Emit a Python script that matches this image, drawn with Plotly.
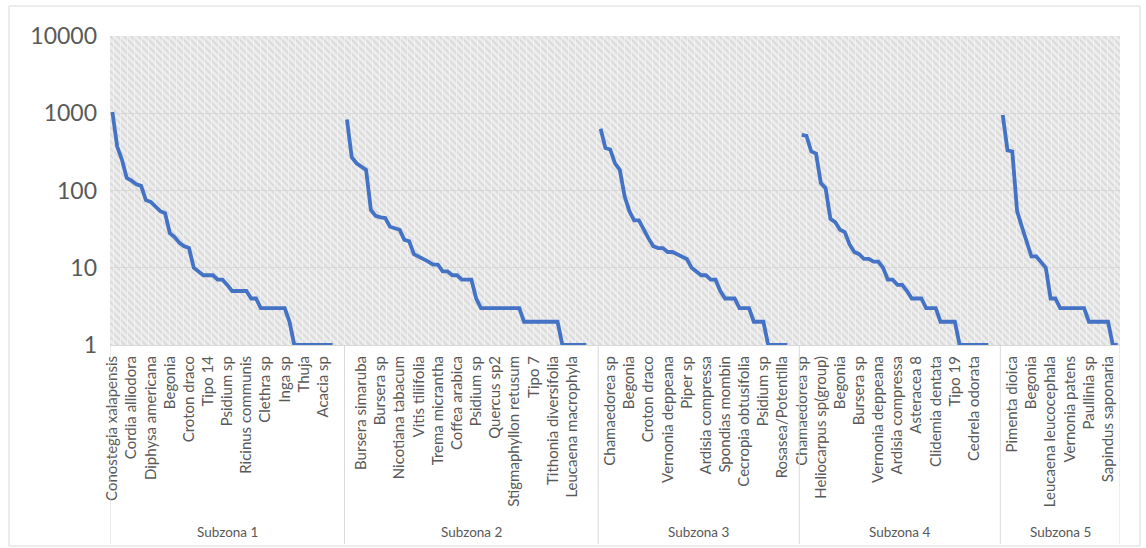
import base64
import plotly.graph_objects as go

# ---------------- data ----------------
groups = ["Subzona 1", "Subzona 2", "Subzona 3", "Subzona 4", "Subzona 5"]

abund_1 = [1040, 370, 250, 145, 134, 120, 115, 75, 71, 63, 54, 51, 28, 25, 21, 19, 18,
           10, 9, 8, 8, 8, 7, 7, 6, 5, 5, 5, 5, 4, 4, 3, 3, 3, 3, 3, 3, 2,
           1, 1, 1, 1, 1, 1, 1, 1, 1]
abund_2 = [830, 270, 225, 205, 185, 56, 47, 45, 44, 34, 32, 31, 23, 22, 15, 14, 13, 12, 11, 11,
           9, 9, 8, 8, 7, 7, 7, 4, 3, 3, 3, 3, 3, 3, 3, 3, 3,
           2, 2, 2, 2, 2, 2, 2, 2, 1, 1, 1, 1, 1, 1]
abund_3 = [630, 355, 340, 225, 185, 85, 54, 41, 41, 31, 24, 19, 18, 18, 16, 16, 15, 14, 13,
           10, 9, 8, 8, 7, 7, 5, 4, 4, 4, 3, 3, 3, 2, 2, 2, 1, 1, 1, 1, 1]
abund_4 = [525, 510, 320, 300, 125, 107, 43, 39, 31, 29, 20, 16, 15, 13, 13, 12, 12,
           10, 7, 7, 6, 6, 5, 4, 4, 4, 3, 3, 3, 2, 2, 2, 2, 1, 1, 1, 1, 1, 1, 1]
abund_5 = [950, 330, 320, 54, 34, 22, 14, 14, 12, 10, 4, 4, 3, 3, 3, 3, 3, 3,
           2, 2, 2, 2, 2, 1, 1]

labels_1 = ["Conostegia xalapensis", "Cordia alliodora", "Diphysa americana", "Begonia",
            "Croton draco", "Tipo 14", "Psidium sp", "Ricinus communis", "Clethra sp",
            "Inga sp", "Thuja", "Acacia sp"]
labels_2 = ["Bursera simaruba", "Bursera sp", "Nicotiana tabacum", "Vitis tiliifolia",
            "Trema micrantha", "Coffea arabica", "Psidium sp", "Quercus sp2",
            "Stigmaphyllon retusum", "Tipo 7", "Tithonia diversifolia", "Leucaena macrophyla"]
labels_3 = ["Chamaedorea sp", "Begonia", "Croton draco", "Vernonia deppeana", "Piper sp",
            "Ardisia compressa", "Spondias mombin", "Cecropia obtusifolia", "Psidium sp",
            "Rosasea/Potentilla"]
labels_4 = ["Chamaedorea sp", "Heliocarpus sp(group)", "Begonia", "Bursera sp",
            "Vernonia deppeana", "Ardisia compressa", "Asteracea 8", "Clidemia dentata",
            "Tipo 19", "Cedrela odorata"]
labels_5 = ["Pimenta dioica", "Begonia", "Leucaena leucocephala", "Vernonia patens",
            "Paullinia sp", "Sapindus saponaria"]

y_ticks = [1, 10, 100, 1000, 10000]

series = [abund_1, abund_2, abund_3, abund_4, abund_5]
tick_names = [labels_1, labels_2, labels_3, labels_4, labels_5]
blank_after = [2, 2, 2, 2, 0]   # empty category slots closing each subzone
label_every = 4

# ---------------- build ----------------
LINE = "#4472C4"
TXT = "#595959"
GRID = "#d9d9d9"
FONT = "Lato"

fig = go.Figure()
tickvals, ticktext, bounds, centers = [], [], [-0.5], []
start = 0
for vals, names, blank in zip(series, tick_names, blank_after):
    xs = list(range(start, start + len(vals)))
    fig.add_trace(go.Scatter(x=xs, y=vals, mode="lines",
                             line=dict(color=LINE, width=3.8), showlegend=False,
                             hoverinfo="x+y"))
    lab_pos = [x for x in xs if x % label_every == 0]
    tickvals += lab_pos[:len(names)]
    ticktext += names
    end = start + len(vals) + blank
    bounds.append(end - 0.5)
    centers.append((start - 0.5 + end - 0.5) / 2)
    start = end

# geometry (pixels)
W, H = 1146, 548
L, R, T, B = 110, 1120, 36, 345
pw, ph = R - L, B - T

def px_x(p):
    return (p - L) / pw

def px_y(p):
    return (B - p) / ph

# hatched plot-area background
svg = f'''<svg xmlns="http://www.w3.org/2000/svg" width="{pw}" height="{ph}" viewBox="0 0 {pw} {ph}">
<defs><pattern id="h" width="7" height="7" patternUnits="userSpaceOnUse">
<rect width="7" height="7" fill="#ececec"/>
<path d="M-1,-1 L8,8 M-1,6 L1,8 M6,-1 L8,1" stroke="#d9d9d9" stroke-width="1.7"/>
<line x1="3.5" y1="0" x2="3.5" y2="7" stroke="#f2f2f2" stroke-width="0.8"/>
</pattern></defs>
<rect width="{pw}" height="{ph}" fill="url(#h)"/></svg>'''
src = "data:image/svg+xml;base64," + base64.b64encode(svg.encode()).decode()

shapes = []
for b in bounds:
    shapes.append(dict(type="line", xref="x", yref="paper", x0=b, x1=b,
                       y0=0, y1=px_y(544), line=dict(color=GRID, width=1)))
# chart-area border
shapes.append(dict(type="rect", xref="paper", yref="paper",
                   x0=px_x(9), x1=px_x(1140), y0=px_y(546), y1=px_y(6),
                   line=dict(color=GRID, width=1), fillcolor="rgba(0,0,0,0)"))

annotations = [dict(x=c, y=px_y(532), xref="x", yref="paper", text=g, showarrow=False,
                    xanchor="center", yanchor="middle",
                    font=dict(family=FONT, size=13.5, color=TXT))
               for c, g in zip(centers, groups)]

fig.update_layout(
    width=W, height=H,
    margin=dict(l=L, r=W - R, t=T, b=H - B, pad=0),
    paper_bgcolor="white", plot_bgcolor="rgba(0,0,0,0)",
    images=[dict(source=src, xref="paper", yref="paper", x=0, y=1, sizex=1, sizey=1,
                 xanchor="left", yanchor="top", sizing="stretch", layer="below")],
    shapes=shapes, annotations=annotations,
    xaxis=dict(range=[bounds[0], bounds[-1]], tickmode="array", tickvals=tickvals,
               ticktext=ticktext, tickangle=-90, showgrid=False, zeroline=False,
               showline=True, linecolor=GRID, linewidth=1, ticks="",
               tickfont=dict(family=FONT, size=15, color=TXT), ticklabelstandoff=4),
    yaxis=dict(type="log", range=[0, 4], tickmode="array", tickvals=y_ticks,
               ticktext=[str(v) for v in y_ticks], showgrid=True, gridcolor=GRID,
               gridwidth=1, zeroline=False, showline=False, ticks="",
               tickfont=dict(family=FONT, size=23, color=TXT), ticklabelstandoff=12),
    font=dict(family=FONT, color=TXT),
)

fig.write_html("out.html", config={"displayModeBar": False},
               post_script="document.body.style.margin='0';"
                           "document.body.style.overflow='hidden';")
